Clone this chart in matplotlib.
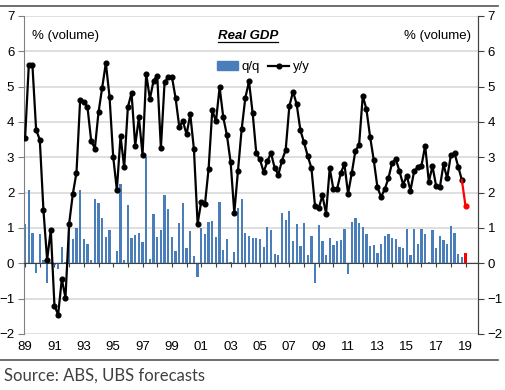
import numpy as np
import matplotlib
matplotlib.use("Agg")
import matplotlib.pyplot as plt
from matplotlib.lines import Line2D
from matplotlib.patches import Patch
from matplotlib.transforms import IdentityTransform

# quarterly, 1989Q1 .. 2019Q1 (last quarter = UBS forecast)
start_year = 1989
qq = [1.1, 2.07, 0.85, -0.27, 0.83, 0.1, -0.57, 0.05, -0.05, -0.15,
      0.45, 0.05, 1.1, 0.7, 1.0, 2.07, 0.7, 0.55, 0.1, 1.83,
      1.7, 1.27, 0.75, 0.95, 0.02, 0.35, 2.25, 0.1, 1.65, 0.73,
      0.8, 0.87, 0.6, 3.0, 0.13, 1.4, 0.75, 0.95, 1.92, 1.55,
      0.75, 0.35, 1.15, 1.7, 0.42, 0.92, 0.2, -0.38, 1.0, 0.82,
      1.17, 1.2, 0.75, 1.75, 0.38, 0.7, 0.03, 0.33, 1.58, 1.83,
      0.87, 0.78, 0.73, 0.73, 0.7, 0.45, 1.02, 0.93, 0.27, 0.23,
      1.43, 1.23, 1.48, 0.63, 1.1, 0.5, 1.15, 0.23, 0.77, -0.55,
      1.08, 0.62, 0.23, 0.72, 0.52, 0.62, 0.67, 0.98, -0.3, 1.18,
      1.28, 1.13, 1.03, 0.82, 0.5, 0.53, 0.28, 0.55, 0.77, 0.82,
      0.72, 0.7, 0.45, 0.42, 0.97, 0.23, 0.97, 0.55, 0.98, 0.83,
      0.03, 0.93, 0.42, 0.77, 0.65, 0.55, 1.07, 0.85, 0.25, 0.17,
      0.3]
yy = [3.55, 5.6, 5.6, 3.78, 3.5, 1.5, 0.1, 0.95, -1.2, -1.45,
      -0.45, -0.97, 1.12, 1.96, 2.57, 4.63, 4.58, 4.42, 3.47, 3.25,
      4.27, 4.97, 5.67, 4.72, 3.02, 2.08, 3.6, 2.72, 4.42, 4.82,
      3.33, 4.13, 3.07, 5.37, 4.65, 5.17, 5.31, 3.26, 5.12, 5.27,
      5.28, 4.68, 3.87, 4.02, 3.65, 4.22, 3.23, 1.12, 1.75, 1.67,
      2.68, 4.33, 4.02, 4.98, 4.13, 3.62, 2.86, 1.43, 2.62, 3.79,
      4.68, 5.15, 4.25, 3.11, 2.94, 2.58, 2.89, 3.12, 2.7, 2.51,
      2.91, 3.21, 4.45, 4.86, 4.5, 3.77, 3.42, 3.04, 2.7, 1.62,
      1.56, 1.92, 1.41, 2.69, 2.1, 2.1, 2.55, 2.81, 1.97, 2.55,
      3.19, 3.35, 4.74, 4.36, 3.58, 2.92, 2.15, 1.88, 2.1, 2.41,
      2.85, 2.95, 2.61, 2.23, 2.48, 2.06, 2.61, 2.72, 2.76, 3.33,
      2.31, 2.75, 2.18, 2.15, 2.8, 2.41, 3.06, 3.12, 2.74, 2.36,
      1.62]
n_forecast = 1

blue = '#4a7ebb'
red = '#ff0000'
plt.rcParams['font.family'] = ['Liberation Sans', 'DejaVu Sans']

x = np.arange(len(qq))
n_act = len(qq) - n_forecast

fig = plt.figure(figsize=(5.06, 3.9), dpi=100)
ax = fig.add_axes([24 / 506, 1 - 334 / 390, 454 / 506, 318 / 390])

bar_colors = [blue] * n_act + [red] * n_forecast
ax.bar(x, qq, width=0.62, color=bar_colors, zorder=2)
ax.plot(x[:n_act], yy[:n_act], color='black', lw=1.6, marker='o', ms=3.4, zorder=3)
ax.plot(x[n_act - 1:], yy[n_act - 1:], color=red, lw=1.6, zorder=3)
ax.plot(x[n_act:], yy[n_act:], 'o', color=red, ms=3.4, zorder=4)

ax.set_ylim(-2, 7)
ax.set_xlim(-0.3, len(qq) + 2.4)
ax.set_yticks(range(-2, 8))
ax.yaxis.grid(True, color='#d9d9d9', lw=1.2, zorder=0)
ax.set_axisbelow(True)

ax.spines['top'].set_visible(False)
ax.spines['left'].set_color('#808080')
ax.spines['right'].set_color('#404040')
ax.spines['bottom'].set_position(('data', 0))
ax.spines['bottom'].set_color('#404040')
ax.spines['bottom'].set_zorder(2.5)

# yearly tick marks on the zero line
ax.set_xticks(x[::4])
ax.tick_params(axis='x', direction='out', length=3, color='#404040', labelbottom=False)
ax.tick_params(axis='y', direction='out', length=4, labelsize=9.5, color='#808080', pad=3)

ax_r = ax.twinx()
ax_r.set_ylim(ax.get_ylim())
ax_r.set_yticks(range(-2, 8))
ax_r.tick_params(axis='y', direction='out', length=4, labelsize=9.5, color='#404040', pad=3)
for s in ['top', 'left', 'bottom']:
    ax_r.spines[s].set_visible(False)
ax_r.spines['right'].set_color('#404040')

# year labels along the bottom
sec = ax.secondary_xaxis(0)
sec.set_xticks(x[::8])
sec.set_xticklabels([f'{(start_year + i // 4) % 100:02d}' for i in x[::8]])
sec.tick_params(length=0, labelsize=9.5, pad=5)
sec.spines['bottom'].set_visible(False)

ax.text(0.018, 0.955, '% (volume)', transform=ax.transAxes, fontsize=9.5, va='top', ha='left')
ax.text(0.985, 0.955, '% (volume)', transform=ax.transAxes, fontsize=9.5, va='top', ha='right')
title = ax.text(0.493, 0.955, 'Real GDP', transform=ax.transAxes, fontsize=9.5,
                fontweight='bold', fontstyle='italic', va='top', ha='center')

handles = [Patch(color=blue, label='q/q'),
           Line2D([], [], color='black', lw=1.6, marker='o', ms=3.4, label='y/y')]
ax.legend(handles=handles, loc='upper center', bbox_to_anchor=(0.527, 0.875), ncol=2,
          frameon=False, fontsize=9.5, handlelength=1.6, handletextpad=0.3,
          columnspacing=0.6, borderaxespad=0)

fig.text(4 / 506, 1 - 376 / 390, 'Source: ABS, UBS forecasts', fontsize=12,
         family=['Lato', 'DejaVu Sans'], color='#404040', va='center', ha='left')

# frame lines above and below the chart
fig.add_artist(Line2D([0, 498 / 506], [1 - 6 / 390] * 2, color='#555555', lw=1.2,
                      transform=fig.transFigure))
fig.add_artist(Line2D([0, 498 / 506], [1 - 360 / 390] * 2, color='#555555', lw=1.2,
                      transform=fig.transFigure))

# underline the title
fig.canvas.draw()
bb = title.get_window_extent()
fig.add_artist(Line2D([bb.x0, bb.x1], [bb.y0, bb.y0], color='black', lw=0.9,
                      transform=IdentityTransform()))

fig.savefig('out.png', dpi=100)
